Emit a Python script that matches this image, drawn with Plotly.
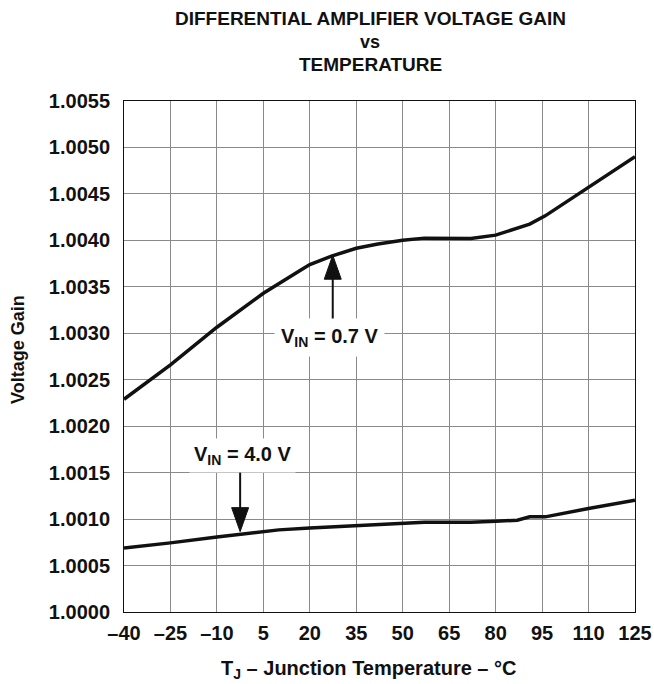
import plotly.graph_objects as go

# ---- data ----
temp_07 = [-40, -25, -10, 5, 17.5, 20, 27, 35, 42, 50, 57, 65, 72, 80, 91, 96, 110, 125]
gain_07 = [1.00229, 1.00266, 1.003065, 1.00343, 1.00369, 1.00374, 1.00383, 1.003915, 1.00396,
           1.004, 1.004024, 1.00402, 1.00402, 1.004056, 1.004175, 1.004264, 1.00457, 1.0049]

temp_40 = [-40, -25, -10, 5, 10, 20, 35, 50, 57, 65, 72, 80, 87, 91, 96, 110, 125]
gain_40 = [1.00069, 1.000744, 1.000808, 1.00087, 1.000884, 1.000905, 1.000931, 1.000956, 1.000967,
           1.000967, 1.000967, 1.000977, 1.000988, 1.001024, 1.001024, 1.001114, 1.001204]

x_ticks = [-40, -25, -10, 5, 20, 35, 50, 65, 80, 95, 110, 125]
x_ticktext = ["\u201340", "\u201325", "\u201310", "5", "20", "35", "50", "65", "80", "95", "110", "125"]
y_ticks = [1.0000 + 0.0005 * i for i in range(12)]
y_ticktext = ["1.0000", "1.0005", "1.0010", "1.0015", "1.0020", "1.0025", "1.0030",
              "1.0035", "1.0040", "1.0045", "1.0050", "1.0055"]

# annotation anchors (temperature, gain)
label_07 = (26.5, 1.00295)
label_40 = (-1.8, 1.00168)
arrow_07 = dict(x=27.4, tip=1.00384, tail=1.00313)
arrow_40 = dict(x=-2.5, tip=1.000865, tail=1.00153)

FONT = "Liberation Sans, Arial, sans-serif"
INK = "#111111"

W, H = 654, 684
PLOT_L, PLOT_R, PLOT_T, PLOT_B = 124, 635, 101, 612
ML, MR, MT, MB = PLOT_L, W - PLOT_R, PLOT_T, H - PLOT_B
PH = PLOT_B - PLOT_T
PW = PLOT_R - PLOT_L
YR = [1.0, 1.0055]
px_to_gain = (YR[1] - YR[0]) / PH

fig = go.Figure()
fig.add_trace(go.Scatter(x=temp_07, y=gain_07, mode="lines",
                         line=dict(color=INK, width=3.5), showlegend=False))
fig.add_trace(go.Scatter(x=temp_40, y=gain_40, mode="lines",
                         line=dict(color=INK, width=3.5), showlegend=False))


def py(ypage):
    return (PLOT_B - ypage) / PH


def px(xpage):
    return (xpage - PLOT_L) / PW


annos = []
for txt, ypix in [("DIFFERENTIAL AMPLIFIER VOLTAGE GAIN", 19), ("vs", 42), ("TEMPERATURE", 64)]:
    annos.append(dict(text="<b>%s</b>" % txt, xref="paper", yref="paper", x=px(370), y=py(ypix),
                      xanchor="center", yanchor="middle", showarrow=False,
                      font=dict(size=19 if txt != "vs" else 18, color=INK, family=FONT)))
annos.append(dict(text="<b>T<sub>J</sub> \u2013 Junction Temperature \u2013 \u00b0C</b>",
                  xref="paper", yref="paper", x=px(368), y=py(669), xanchor="center", yanchor="middle",
                  showarrow=False, font=dict(size=20, color=INK, family=FONT)))
annos.append(dict(text="<b>Voltage Gain</b>", textangle=-90,
                  xref="paper", yref="paper", x=px(18), y=py(350), xanchor="center", yanchor="middle",
                  showarrow=False, font=dict(size=18, color=INK, family=FONT)))
annos.append(dict(text="<b>V<sub>IN</sub> = 0.7 V</b>", x=label_07[0], y=label_07[1], xref="x", yref="y",
                  showarrow=False, bgcolor="white", borderpad=6,
                  font=dict(size=20, color=INK, family=FONT)))
annos.append(dict(text="<b>V<sub>IN</sub> = 4.0 V</b>", x=label_40[0], y=label_40[1], xref="x", yref="y",
                  showarrow=False, bgcolor="white", borderpad=4,
                  font=dict(size=20, color=INK, family=FONT)))

HEAD_LEN, HEAD_HALF = 24, 8.5
shapes = []
# up arrow for 0.7 V
shapes.append(dict(type="line", xref="x", yref="y", x0=arrow_07["x"], x1=arrow_07["x"],
                   y0=arrow_07["tail"], y1=arrow_07["tip"] - (HEAD_LEN - 2) * px_to_gain,
                   line=dict(color=INK, width=2)))
shapes.append(dict(type="path", xref="x", yref="y", xsizemode="pixel", ysizemode="pixel",
                   xanchor=arrow_07["x"], yanchor=arrow_07["tip"],
                   path="M0,0 L%g,%g L%g,%g Z" % (-HEAD_HALF, -HEAD_LEN, HEAD_HALF, -HEAD_LEN),
                   fillcolor=INK, line=dict(color=INK, width=1)))
# down arrow for 4.0 V
shapes.append(dict(type="line", xref="x", yref="y", x0=arrow_40["x"], x1=arrow_40["x"],
                   y0=arrow_40["tail"], y1=arrow_40["tip"] + (HEAD_LEN - 2) * px_to_gain,
                   line=dict(color=INK, width=2)))
shapes.append(dict(type="path", xref="x", yref="y", xsizemode="pixel", ysizemode="pixel",
                   xanchor=arrow_40["x"], yanchor=arrow_40["tip"],
                   path="M0,0 L%g,%g L%g,%g Z" % (-HEAD_HALF, HEAD_LEN, HEAD_HALF, HEAD_LEN),
                   fillcolor=INK, line=dict(color=INK, width=1)))

fig.update_layout(
    width=W, height=H,
    margin=dict(l=ML, r=MR, t=MT, b=MB),
    paper_bgcolor="white", plot_bgcolor="white",
    font=dict(family=FONT, color=INK),
    annotations=annos, shapes=shapes,
)
fig.update_xaxes(range=[-40, 125], tickvals=x_ticks, ticktext=x_ticktext, automargin=False,
                 showgrid=True, gridcolor="#8a8a8a", gridwidth=1,
                 showline=True, linecolor=INK, linewidth=1, mirror=True,
                 ticks="", ticklabelstandoff=3, zeroline=False, ticklabeloverflow="allow",
                 tickfont=dict(size=20, family=FONT, color=INK, weight="bold"))
fig.update_yaxes(range=YR, tickvals=y_ticks, ticktext=y_ticktext, automargin=False,
                 showgrid=True, gridcolor="#8a8a8a", gridwidth=1,
                 showline=True, linecolor=INK, linewidth=1, mirror=True,
                 ticks="", ticklabelstandoff=9, zeroline=False, ticklabeloverflow="allow",
                 tickfont=dict(size=20, family=FONT, color=INK, weight="bold"))

# the page body has a default 8px margin; remove it so the figure fills the window
fig.write_html("out.html", config=dict(displayModeBar=False),
               post_script="document.body.style.margin='0';document.body.style.overflow='hidden';")
